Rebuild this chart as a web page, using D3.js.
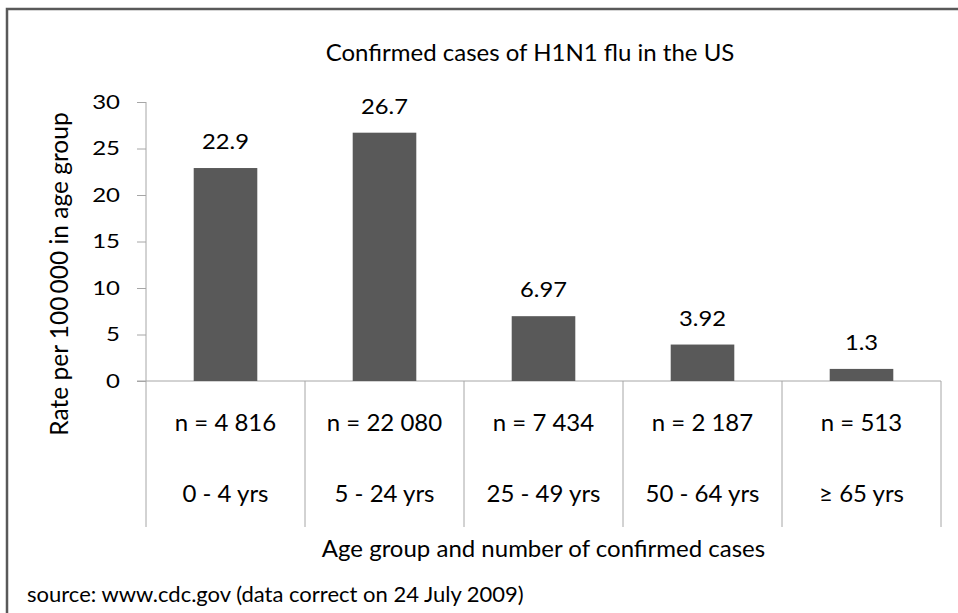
<!DOCTYPE html>
<html>
<head>
<meta charset="utf-8">
<script src="https://cdn.jsdelivr.net/npm/d3@7"></script>
<style>
  body { margin: 0; background: #fff; }
  svg text { font-family: Lato, "Open Sans", sans-serif; fill: #000; }
</style>
</head>
<body>
<div id="chart"></div>
<script>
// chart data
var ageGroups = ["0 - 4 yrs", "5 - 24 yrs", "25 - 49 yrs", "50 - 64 yrs", "\u2265 65 yrs"];
var caseCounts = ["n = 4 816", "n = 22 080", "n = 7 434", "n = 2 187", "n = 513"];
var rates = [22.9, 26.7, 6.97, 3.92, 1.3];
var yTicks = [0, 5, 10, 15, 20, 25, 30];

var svgWidth = 958;
var svgHeight = 613;

var margin = { top: 102, right: 17, bottom: 232, left: 146 };
var width = svgWidth - margin.left - margin.right;
var height = svgHeight - margin.top - margin.bottom;

var svg = d3.select("#chart")
    .append("svg")
    .attr("width", svgWidth)
    .attr("height", svgHeight);

// text helper, sx widens the glyphs a little (the original looks stretched)
function addText(parent, x, y, str, size, sx, anchor) {
    return parent.append("text")
        .attr("transform", `translate(${x}, ${y}) scale(${sx}, 1)`)
        .attr("text-anchor", anchor || "middle")
        .attr("font-size", size + "px")
        .text(str);
}

// outer frame (only top/left edges visible in the picture)
svg.append("rect")
    .attr("x", 7)
    .attr("y", 9)
    .attr("width", svgWidth + 20)
    .attr("height", svgHeight + 20)
    .attr("fill", "none")
    .attr("stroke", "#595959")
    .attr("stroke-width", 2.5);

addText(svg, 530, 61, "Confirmed cases of H1N1 flu in the US", 24, 1);

var chartGroup = svg.append("g")
    .attr("transform", `translate(${margin.left}, ${margin.top})`);

var data = ageGroups.map(function (g, i) {
    return { group: g, n: caseCounts[i], rate: rates[i] };
});

// scales
var xBandScale = d3.scaleBand()
    .domain(ageGroups)
    .range([0, width])
    .paddingInner(0.6)
    .paddingOuter(0.3);

var yLinearScale = d3.scaleLinear()
    .domain([0, 30])
    .range([height, 0]);

var step = xBandScale.step();

// y axis
var tickSx = 1.2;
var leftAxis = d3.axisLeft(yLinearScale)
    .tickValues(yTicks)
    .tickSize(9)
    .tickPadding(17);

var yAxis = chartGroup.append("g").call(leftAxis);
yAxis.select(".domain").remove();
yAxis.selectAll("line").attr("stroke", "#a6a6a6");
yAxis.selectAll("text")
    .attr("font-size", "20px")
    .attr("x", -26 / tickSx)
    .attr("transform", `scale(${tickSx}, 1)`);

// category area lines (baseline + dividers)
var tableBottom = 146;
chartGroup.append("line")
    .attr("x1", -9).attr("x2", width)
    .attr("y1", height).attr("y2", height)
    .attr("stroke", "#a6a6a6");

var dividers = d3.range(ageGroups.length + 1).map(function (i) { return i * step; });
chartGroup.selectAll(".divider")
    .data(dividers)
    .enter()
    .append("line")
    .attr("x1", d => d).attr("x2", d => d)
    .attr("y1", d => d === 0 ? 0 : height)
    .attr("y2", height + tableBottom)
    .attr("stroke", "#a6a6a6");

// bars
chartGroup.selectAll("rect.bar")
    .data(data)
    .enter()
    .append("rect")
    .attr("class", "bar")
    .attr("x", d => xBandScale(d.group))
    .attr("y", d => yLinearScale(d.rate))
    .attr("width", xBandScale.bandwidth())
    .attr("height", d => height - yLinearScale(d.rate))
    .attr("fill", "#595959");

// value labels and the two rows of category labels
data.forEach(function (d) {
    var cx = xBandScale(d.group) + xBandScale.bandwidth() / 2;
    addText(chartGroup, cx, yLinearScale(d.rate) - 19, d.rate, 22, 1.08);
    addText(chartGroup, cx, height + 50, d.n, 24, 1);
    addText(chartGroup, cx, height + 121, d.group, 24, 1);
});

// axis titles
chartGroup.append("text")
    .attr("transform", `translate(${68 - margin.left}, ${274 - margin.top}) rotate(-90)`)
    .attr("text-anchor", "middle")
    .attr("font-size", "24.5px")
    .text("Rate per 100\u2009000 in age group");

addText(chartGroup, width / 2, 557 - margin.top, "Age group and number of confirmed cases", 24, 1);

addText(svg, 27, 602, "source: www.cdc.gov (data correct on 24 July 2009)", 22, 1, "start");
</script>
</body>
</html>
